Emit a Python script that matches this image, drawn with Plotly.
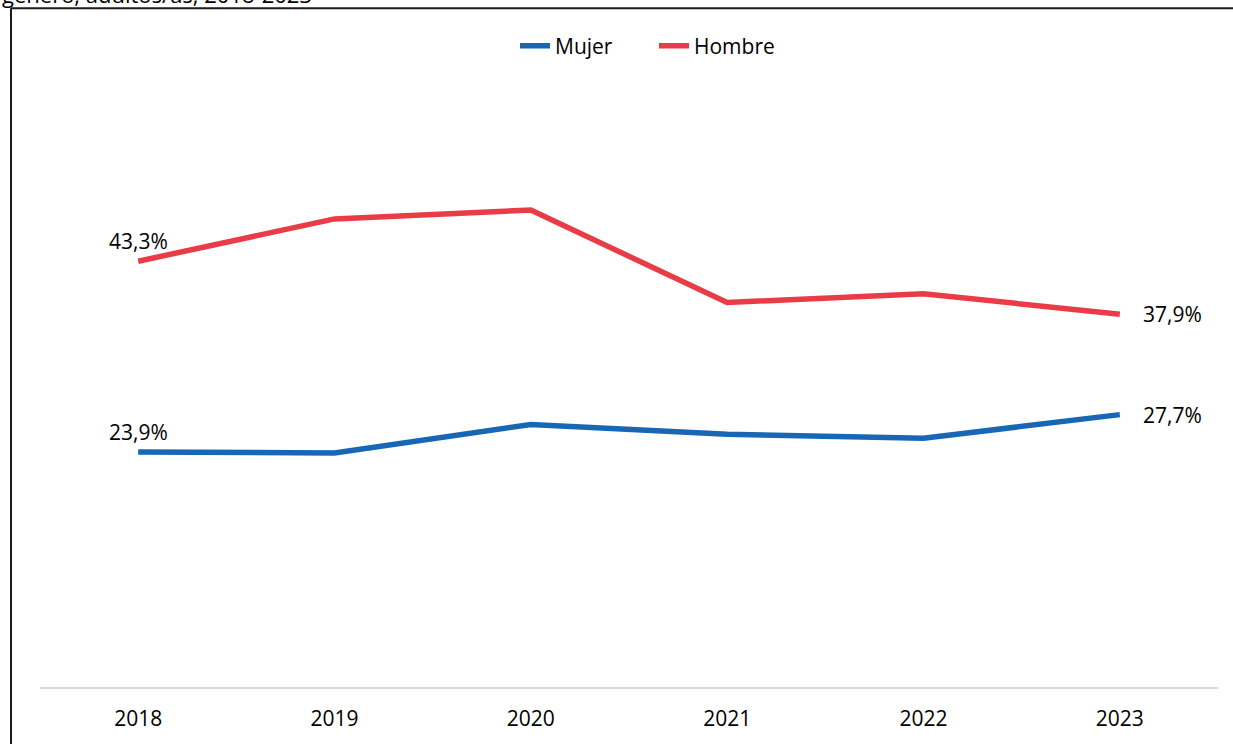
import plotly.graph_objects as go

years = ["2018", "2019", "2020", "2021", "2022", "2023"]
mujer = [23.9, 23.8, 26.7, 25.7, 25.3, 27.7]
hombre = [43.3, 47.6, 48.5, 39.1, 40.0, 37.9]
series_names = ["Mujer", "Hombre"]
title_fragment = "género, adultos/as, 2018-2023"

W, H = 1233, 744
L, R, T, B = 40, 15, 97, 55
PW, PH = W - L - R, H - T - B

def px_x(x):
    return (x - L) / PW

def px_y(y):
    return (H - B - y) / PH

def fmt(v):
    return f"{v:.1f}".replace(".", ",") + "%"

FONT = "Open Sans, Noto Sans, sans-serif"
BLUE = "#1767B5"
RED = "#E83C47"

fig = go.Figure()
annotations = []
first_i, last_i = 0, len(years) - 1
for name, vals, color in [(series_names[0], mujer, BLUE), (series_names[1], hombre, RED)]:
    fig.add_trace(go.Scatter(
        x=years, y=vals, name=name, mode="lines",
        line=dict(color=color, width=5.5),
        hoverinfo="skip",
    ))
    annotations.append(dict(
        x=first_i, y=vals[first_i], xref="x", yref="y", text=fmt(vals[first_i]),
        showarrow=False, xanchor="center", yanchor="bottom", yshift=4,
        font=dict(size=21, family=FONT, color="#000000"),
    ))
    annotations.append(dict(
        x=last_i, y=vals[last_i], xref="x", yref="y", text=fmt(vals[last_i]),
        showarrow=False, xanchor="left", yanchor="middle", xshift=21,
        font=dict(size=21, family=FONT, color="#000000"),
    ))

annotations.append(dict(
    text=title_fragment, xref="paper", yref="paper",
    x=px_x(0), y=px_y(11), xanchor="left", yanchor="bottom",
    showarrow=False, font=dict(size=22, family=FONT, color="#000000"),
))

fig.update_layout(
    width=W, height=H,
    margin=dict(l=L, r=R, t=T, b=B),
    paper_bgcolor="white", plot_bgcolor="white",
    font=dict(family=FONT, size=20, color="#000000"),
    showlegend=True,
    legend=dict(
        orientation="h", x=px_x(515), y=px_y(46), xanchor="left", yanchor="middle",
        font=dict(size=21, family=FONT, color="#000000"),
        bgcolor="rgba(0,0,0,0)", tracegroupgap=0, entrywidth=94,
    ),
    xaxis=dict(
        type="category", range=[-0.5, 5.5], showgrid=False, zeroline=False,
        showline=True, linecolor="#D9D9D9", linewidth=2,
        ticks="", tickfont=dict(size=21, family=FONT, color="#000000"),
        ticklabelstandoff=12, fixedrange=True,
    ),
    yaxis=dict(
        range=[0, 60], showgrid=False, zeroline=False, showline=False,
        showticklabels=False, ticks="", fixedrange=True,
    ),
    shapes=[
        dict(type="line", xref="paper", yref="paper",
             x0=px_x(11), x1=px_x(W + 5), y0=px_y(8), y1=px_y(8),
             line=dict(color="#1A1A1A", width=2)),
        dict(type="line", xref="paper", yref="paper",
             x0=px_x(11), x1=px_x(11), y0=px_y(8), y1=px_y(H + 5),
             line=dict(color="#1A1A1A", width=2)),
    ],
    annotations=annotations,
)

fig.write_html(
    "out.html",
    config={"displayModeBar": False},
    post_script="document.body.style.margin='0';document.body.style.overflow='hidden';",
)
